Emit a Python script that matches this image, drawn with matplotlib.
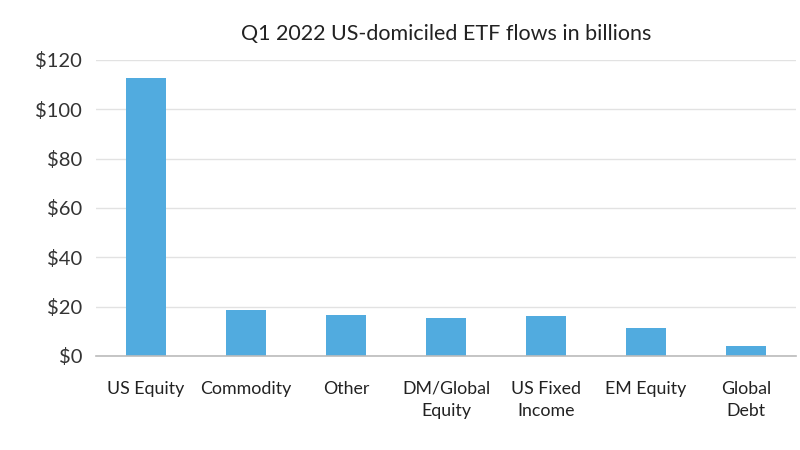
import matplotlib
matplotlib.use("Agg")
import matplotlib.pyplot as plt

categories = ["US Equity", "Commodity", "Other", "DM/Global\nEquity", "US Fixed\nIncome", "EM Equity", "Global\nDebt"]
flows = [112.5, 18.5, 16.5, 15.5, 16.1, 11.5, 4.2]
yticks = [0, 20, 40, 60, 80, 100, 120]
ytick_labels = ["$0", "$20", "$40", "$60", "$80", "$100", "$120"]
title = "Q1 2022 US-domiciled ETF flows in billions"

plt.rcParams['font.family'] = ['Lato', 'DejaVu Sans']

fig = plt.figure(figsize=(8, 4.5), dpi=100)
ax = fig.add_axes([0.12, 0.209, 0.875, 0.658])

x = list(range(len(categories)))
ax.bar(x, flows, width=0.4, color="#51ABDF", zorder=3)

ax.set_xlim(-0.5, len(categories) - 0.5)
ax.set_ylim(0, 120)
ax.set_yticks(yticks)
ax.set_yticklabels(ytick_labels, fontsize=14.5, color="#333333")
ax.set_xticks(x)
ax.set_xticklabels(categories, fontsize=12.8, color="#222222", linespacing=1.45)
ax.tick_params(axis='both', length=0)
ax.tick_params(axis='x', pad=18)
ax.tick_params(axis='y', pad=10)

ax.grid(axis='y', color="#E2E2E2", linewidth=1, zorder=0)
for s in ["top", "right", "left"]:
    ax.spines[s].set_visible(False)
ax.spines["bottom"].set_color("#BBBBBB")
ax.spines["bottom"].set_linewidth(1.2)
ax.spines["bottom"].set_zorder(4)

ax.set_title(title, fontsize=15.5, color="#222222", pad=14)

fig.savefig("out.png", dpi=100, facecolor="white")
